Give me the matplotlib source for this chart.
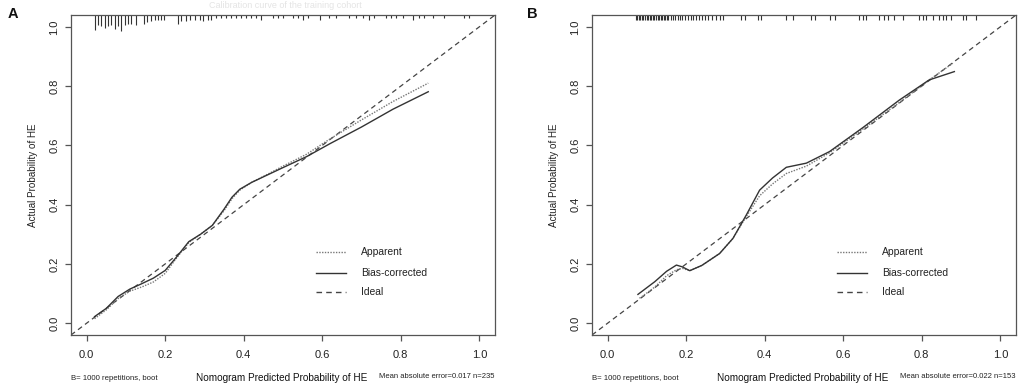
import matplotlib
matplotlib.use("Agg")
import matplotlib.pyplot as plt

plt.rcParams['font.family'] = ['Liberation Sans', 'DejaVu Sans']

# ---------------- Panel A data ----------------
a_bias_x = [0.02, 0.05, 0.08, 0.11, 0.14, 0.17, 0.20, 0.23, 0.26, 0.29, 0.32, 0.35,
            0.37, 0.39, 0.42, 0.46, 0.50, 0.56, 0.62, 0.70, 0.78, 0.87]
a_bias_y = [0.022, 0.050, 0.090, 0.115, 0.133, 0.152, 0.178, 0.225, 0.275, 0.300, 0.330, 0.385,
            0.425, 0.452, 0.475, 0.500, 0.525, 0.562, 0.606, 0.662, 0.722, 0.781]
a_app_x = a_bias_x
a_app_y = [0.015, 0.045, 0.083, 0.108, 0.122, 0.139, 0.168, 0.222, 0.272, 0.300, 0.330, 0.380,
           0.420, 0.449, 0.475, 0.502, 0.530, 0.570, 0.622, 0.686, 0.748, 0.810]

a_rug_x = [0.020, 0.029, 0.037, 0.046, 0.054, 0.063, 0.071, 0.080, 0.088, 0.097, 0.105, 0.114,
           0.126, 0.145, 0.154, 0.165, 0.173, 0.182, 0.190, 0.198, 0.232, 0.241, 0.252, 0.262,
           0.275, 0.288, 0.296, 0.309, 0.317, 0.330, 0.343, 0.355, 0.368, 0.381, 0.394, 0.406,
           0.419, 0.432, 0.444, 0.474, 0.487, 0.500, 0.525, 0.538, 0.550, 0.563, 0.593, 0.618,
           0.635, 0.669, 0.686, 0.703, 0.720, 0.733, 0.763, 0.775, 0.788, 0.805, 0.830, 0.847,
           0.860, 0.881, 0.911, 0.962, 0.975]
a_rug_len = [0.049, 0.035, 0.038, 0.043, 0.038, 0.035, 0.046, 0.038, 0.054, 0.035, 0.029, 0.032,
             0.035, 0.032, 0.024, 0.020, 0.018, 0.016, 0.016, 0.016, 0.029, 0.020, 0.020, 0.016,
             0.018, 0.016, 0.020, 0.016, 0.016, 0.011, 0.011, 0.011, 0.011, 0.011, 0.011, 0.011,
             0.011, 0.011, 0.018, 0.011, 0.011, 0.011, 0.011, 0.011, 0.018, 0.011, 0.018, 0.011,
             0.011, 0.011, 0.011, 0.011, 0.016, 0.011, 0.011, 0.011, 0.011, 0.011, 0.016, 0.011,
             0.011, 0.011, 0.011, 0.011, 0.011]

# ---------------- Panel B data ----------------
b_bias_x = [0.077, 0.10, 0.12, 0.15, 0.175, 0.19, 0.209, 0.24, 0.285, 0.319, 0.353, 0.387,
            0.42, 0.455, 0.506, 0.565, 0.65, 0.743, 0.819, 0.883]
b_bias_y = [0.097, 0.120, 0.140, 0.175, 0.196, 0.190, 0.177, 0.195, 0.235, 0.286, 0.365, 0.449,
            0.490, 0.526, 0.540, 0.579, 0.660, 0.753, 0.821, 0.849]
b_app_x = [0.081, 0.10, 0.12, 0.15, 0.175, 0.19, 0.209, 0.24, 0.285, 0.319, 0.353, 0.387,
           0.42, 0.455, 0.506, 0.565, 0.65, 0.743, 0.819, 0.879]
b_app_y = [0.084, 0.102, 0.122, 0.160, 0.180, 0.185, 0.177, 0.195, 0.235, 0.286, 0.360, 0.430,
           0.470, 0.505, 0.530, 0.575, 0.655, 0.745, 0.821, 0.877]

b_rug_x = [0.071, 0.075, 0.079, 0.083, 0.087, 0.091, 0.095, 0.099, 0.103, 0.107, 0.111, 0.115,
           0.119, 0.123, 0.127, 0.131, 0.135, 0.139, 0.143, 0.147, 0.151, 0.154,
           0.160, 0.166, 0.172, 0.178, 0.184, 0.190, 0.197, 0.204, 0.211, 0.218, 0.225, 0.232,
           0.240, 0.248, 0.256, 0.266, 0.276, 0.285, 0.293,
           0.340, 0.349, 0.383, 0.391, 0.455, 0.472, 0.518, 0.527, 0.565, 0.578, 0.641, 0.650,
           0.658, 0.692, 0.705, 0.713, 0.730, 0.751, 0.794, 0.802, 0.811, 0.828, 0.845, 0.853,
           0.862, 0.874, 0.904, 0.913, 0.938]
b_rug_len = [0.018] * len(b_rug_x)

tick_vals = [0.0, 0.2, 0.4, 0.6, 0.8, 1.0]
tick_labels = ["0.0", "0.2", "0.4", "0.6", "0.8", "1.0"]
legend_labels = ["Apparent", "Bias-corrected", "Ideal"]
xlabel = "Nomogram Predicted Probability of HE"
ylabel = "Actual Probability of HE"
note_left = "B= 1000 repetitions, boot"
notes_right = ["Mean absolute error=0.017 n=235", "Mean absolute error=0.022 n=153"]
title_a = "Calibration curve of the training cohort"

fig = plt.figure(figsize=(10.21, 3.87), dpi=100)
W, H = 1021, 387

def add_panel(left_px, right_px, bias_x, bias_y, app_x, app_y, rug_x, rug_len, note_right, letter, letter_px):
    top_px, bot_px = 15, 335
    ax = fig.add_axes([left_px / W, 1 - bot_px / H, (right_px - left_px) / W, (bot_px - top_px) / H])
    ax.set_xlim(-0.04, 1.04)
    ax.set_ylim(-0.04, 1.04)
    for s in ax.spines.values():
        s.set_color('#555555')
        s.set_linewidth(0.9)
    ax.plot([-0.04, 1.04], [-0.04, 1.04], color='#444444', lw=0.9, ls=(0, (4, 3)))
    ax.plot(app_x, app_y, color='#777777', lw=1.0, ls=(0, (1, 1)))
    ax.plot(bias_x, bias_y, color='#333333', lw=1.0, ls='-')
    ax.vlines(rug_x, [1.04 - l for l in rug_len], 1.04, color='#333333', lw=0.8)
    ax.set_xticks(tick_vals)
    ax.set_xticklabels(tick_labels, fontsize=8, color='#222222')
    ax.set_yticks(tick_vals)
    ax.set_yticklabels(tick_labels, fontsize=8, color='#222222', rotation=90, va='center')
    ax.tick_params(axis='both', length=4.5, width=0.9, color='#555555', pad=6)
    ax.tick_params(axis='y', pad=4)
    ax.set_ylabel(ylabel, fontsize=7.1, color='#222222', labelpad=8)
    ly = [0.241, 0.168, 0.106]
    styles = [dict(color='#777777', ls=(0, (1, 1))), dict(color='#333333', ls='-'),
              dict(color='#444444', ls=(0, (4, 3)))]
    for yy, lab, st in zip(ly, legend_labels, styles):
        ax.plot([0.584, 0.661], [yy, yy], lw=1.0, **st)
        ax.text(0.699, yy, lab, fontsize=7.4, va='center', ha='left', color='#222222')
    fig.text(left_px / W, 1 - 378 / H, note_left, fontsize=5.6, ha='left', va='center', color='#222222')
    fig.text((left_px + 211) / W, 1 - 378 / H, xlabel, fontsize=7.2, ha='center', va='center', color='#111111')
    fig.text((right_px - 1) / W, 1 - 377 / H, note_right, fontsize=5.5, ha='right', va='center', color='#222222')
    fig.text(letter_px[0] / W, 1 - letter_px[1] / H, letter, fontsize=10.5, fontweight='bold',
             ha='left', va='center', color='#111111')
    return ax

axA = add_panel(71, 495, a_bias_x, a_bias_y, a_app_x, a_app_y, a_rug_x, a_rug_len,
                notes_right[0], "A", (8, 14))
axB = add_panel(592, 1016, b_bias_x, b_bias_y, b_app_x, b_app_y, b_rug_x, b_rug_len,
                notes_right[1], "B", (527, 14))

# faint title above panel A
fig.text(285 / W, 1 - 1 / H, title_a, fontsize=6.5, ha='center', va='top', color='#e4e4e4')

fig.savefig("out.png", dpi=100)
